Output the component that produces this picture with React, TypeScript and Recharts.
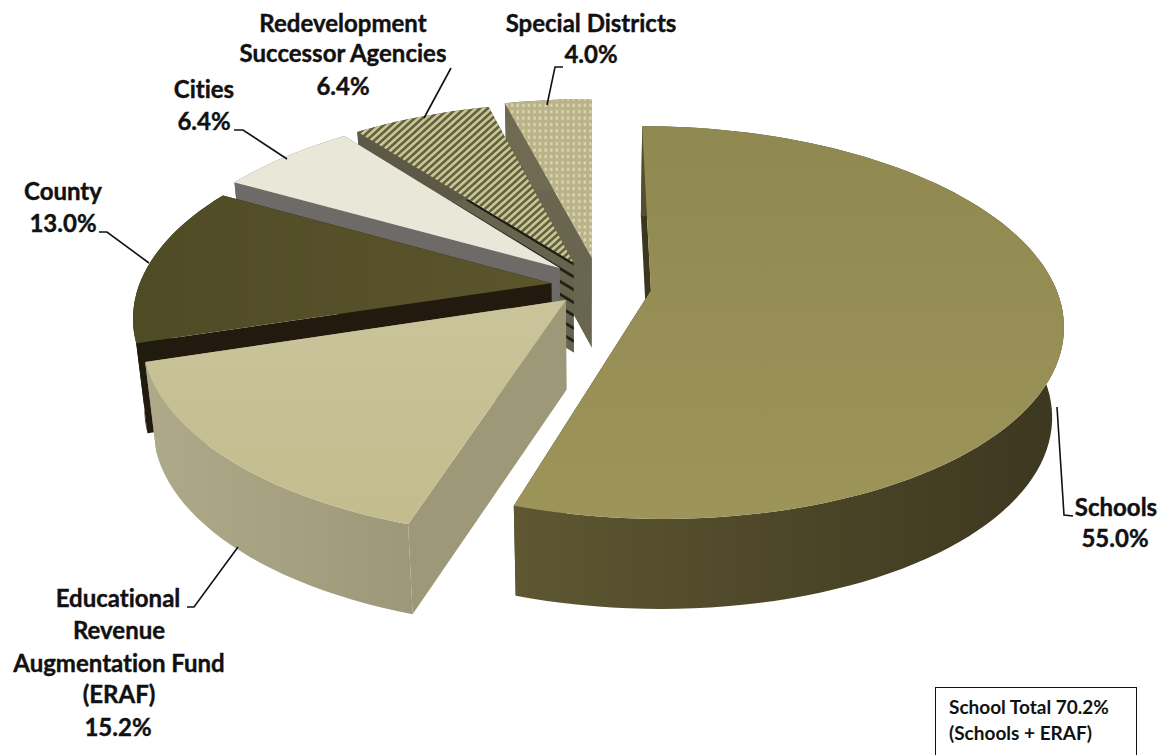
import { PieChart, Pie } from "recharts";

// Slices run counter-clockwise from 12 o'clock, so the rear ones paint first.
const sliceNames = ["Special Districts", "Redevelopment Successor Agencies", "Cities", "County", "ERAF", "Schools"];
const sliceShares = [4.0, 6.4, 6.4, 13.0, 15.2, 55.0];
const labelLines = [
  ["Special Districts"],
  ["Redevelopment", "Successor Agencies"],
  ["Cities"],
  ["County"],
  ["Educational", "Revenue", "Augmentation Fund", "(ERAF)"],
  ["Schools"],
];
const noteLines = ["School Total 70.2%", "(Schools + ERAF)"];

const chartData = sliceNames.map((name, i) => ({ name, value: sliceShares[i] }));

const WIDTH = 1161;
const HEIGHT = 755;
const PIE_CX = 589;
const PIE_CY = 293;
const PIE_R = 415;
const TILT = 0.472;
const PERSPECTIVE = 0.166;
const DEPTH = 90;
const BOTTOM_SHRINK = 0.975;
const FONT = "Lato, sans-serif";

// how far each wedge is pulled out of the pie, on the table plane
const explode = [
  [3, 77],
  [-16, 66],
  [-30, 54],
  [-38, 21],
  [-23, -15],
  [62, 5],
];
const radiusScale = [1, 1, 1, 1, 1, 0.98];

const sliceStyles = [
  { top: "url(#dots)", wall: "#6f6b52", wallEnd: "#6f6b52", cut: "#69654e" },
  { top: "url(#stripes)", wall: "#5d5946", wallEnd: "#5d5946", cut: "url(#ledges)" },
  { top: "#e9e7d8", wall: "#6d6a68", wallEnd: "#6d6a68", cut: "#6d6a68" },
  { top: "url(#countyTop)", wall: "#1f1b0d", wallEnd: "#1f1b0d", cut: "#221a0e" },
  { top: "url(#eraftTop)", wall: "#aeaa89", wallEnd: "#9b9778", cut: "#9d9978" },
  { top: "url(#schoolsTop)", wall: "#5e5732", wallEnd: "#3d3820", cut: "#3b371c" },
];

// label text anchors: centre x and baseline y per line, percentage last
const labelSpots = [
  { x: [591, 591], y: [32, 63] },
  { x: [343, 343, 343], y: [32, 62, 95] },
  { x: [204, 204], y: [98, 130] },
  { x: [63, 63], y: [200, 232] },
  { x: [118, 119, 119, 119, 118], y: [607, 639, 672, 703, 736] },
  { x: [1116, 1115], y: [516, 547] },
];
const leaders = [
  "563,67 555,67 547,105",
  "451,68 424,118",
  "234,130 243,130 287,159",
  "99,232 107,232 149,263",
  "187,607 194,607 238,547",
  "1057,407 1064,515 1073,516",
];

type Pt = [number, number];

function project(wx: number, wy: number, low: boolean): Pt {
  const s = 1 / (1 + (PERSPECTIVE * wy) / PIE_R);
  const x = PIE_CX + wx * s * (low ? BOTTOM_SHRINK : 1);
  const y = PIE_CY - TILT * wy * s + (low ? DEPTH : 0);
  return [x, y];
}

const toPath = (pts: Pt[]) => "M" + pts.map((p) => `${p[0].toFixed(1)},${p[1].toFixed(1)}`).join("L") + "Z";

function Wedge3D(props: any) {
  const { startAngle, endAngle, outerRadius, index } = props;
  const [ox, oy] = explode[index];
  const radius = outerRadius * radiusScale[index];
  const style = sliceStyles[index];
  const steps = Math.max(6, Math.round(Math.abs(endAngle - startAngle) / 2));
  const rim = (low: boolean) => {
    const pts: Pt[] = [];
    for (let k = 0; k <= steps; k++) {
      const a = ((startAngle + ((endAngle - startAngle) * k) / steps) * Math.PI) / 180;
      pts.push(project(ox + radius * Math.cos(a), oy + radius * Math.sin(a), low));
    }
    return pts;
  };
  const topRim = rim(false);
  const lowRim = rim(true);
  const apexTop = project(ox, oy, false);
  const apexLow = project(ox, oy, true);
  const wallId = `wall${index}`;
  return (
    <g>
      <defs>
        <linearGradient id={wallId} gradientUnits="userSpaceOnUse" x1={index === 5 ? 510 : 150} y1="0" x2={index === 5 ? 1040 : 420} y2="0">
          <stop offset="0" stopColor={style.wall} />
          <stop offset="1" stopColor={style.wallEnd} />
        </linearGradient>
      </defs>
      <path d={toPath([apexTop, topRim[0], lowRim[0], apexLow])} fill={style.cut} />
      <path d={toPath([apexTop, topRim[steps], lowRim[steps], apexLow])} fill={style.cut} />
      <path d={toPath([...topRim, ...[...lowRim].reverse()])} fill={`url(#${wallId})`} />
      <path d={toPath([apexTop, ...topRim])} fill={style.top} />
    </g>
  );
}

function SliceLabel(props: any) {
  const { index, value } = props;
  const spot = labelSpots[index];
  const lines = [...labelLines[index], `${Number(value).toFixed(1)}%`];
  return (
    <g>
      <polyline points={leaders[index]} fill="none" stroke="#111" strokeWidth={1.6} />
      {lines.map((line, i) => (
        <text
          key={line}
          x={spot.x[i]}
          y={spot.y[i]}
          textAnchor="middle"
          fontFamily={FONT}
          fontWeight={700}
          fontSize={24}
          fill="#111"
          stroke="#111"
          strokeWidth={0.4}
          style={{ fontVariantLigatures: "none" }}
        >
          {line}
        </text>
      ))}
    </g>
  );
}

export default function App() {
  return (
    <div style={{ position: "absolute", left: 0, top: 0, width: WIDTH, height: HEIGHT, overflow: "hidden", background: "#fff" }}>
      <PieChart width={WIDTH} height={HEIGHT} margin={{ top: 0, right: 0, bottom: 0, left: 0 }}>
        <defs>
          <pattern id="stripes" patternUnits="userSpaceOnUse" width="5.2" height="5.2" patternTransform="rotate(-42)">
            <rect width="5.2" height="5.2" fill="#c9c59b" />
            <rect width="5.2" height="2.6" fill="#64623a" />
          </pattern>
          <pattern id="dots" patternUnits="userSpaceOnUse" width="5.6" height="6.4">
            <rect width="5.6" height="6.4" fill="#b9b387" />
            <rect x="1.4" y="1.4" width="2.2" height="3" fill="#dedbbd" />
          </pattern>
          <pattern id="ledges" patternUnits="userSpaceOnUse" width="11" height="11" patternTransform="rotate(31.2)">
            <rect width="11" height="11" fill="#66634f" />
            <rect y="4.3" width="11" height="2.6" fill="#1c1a10" />
          </pattern>
          <linearGradient id="schoolsTop" x1="0" y1="0" x2="0" y2="1">
            <stop offset="0" stopColor="#8f8850" />
            <stop offset="1" stopColor="#9d9459" />
          </linearGradient>
          <linearGradient id="eraftTop" x1="0" y1="0" x2="0" y2="1">
            <stop offset="0" stopColor="#c9c49a" />
            <stop offset="1" stopColor="#c2bc8e" />
          </linearGradient>
          <linearGradient id="countyTop" x1="0" y1="0" x2="1" y2="0">
            <stop offset="0" stopColor="#4f4b25" />
            <stop offset="1" stopColor="#5b552c" />
          </linearGradient>
        </defs>
        <Pie
          data={chartData}
          dataKey="value"
          nameKey="name"
          cx={PIE_CX}
          cy={PIE_CY}
          innerRadius={0}
          outerRadius={PIE_R}
          startAngle={90}
          endAngle={450}
          stroke="none"
          isAnimationActive={false}
          shape={Wedge3D}
          label={SliceLabel}
          labelLine={false}
        />
      </PieChart>
      <div
        style={{
          position: "absolute",
          left: 935,
          top: 687,
          width: 202,
          height: 90,
          border: "1.5px solid #111",
          boxSizing: "border-box",
          padding: "6px 0 0 13px",
          fontFamily: FONT,
          fontWeight: 700,
          fontSize: 19,
          lineHeight: "26px",
          color: "#111",
        }}
      >
        {noteLines.map((line) => (
          <div key={line}>{line}</div>
        ))}
      </div>
    </div>
  );
}
